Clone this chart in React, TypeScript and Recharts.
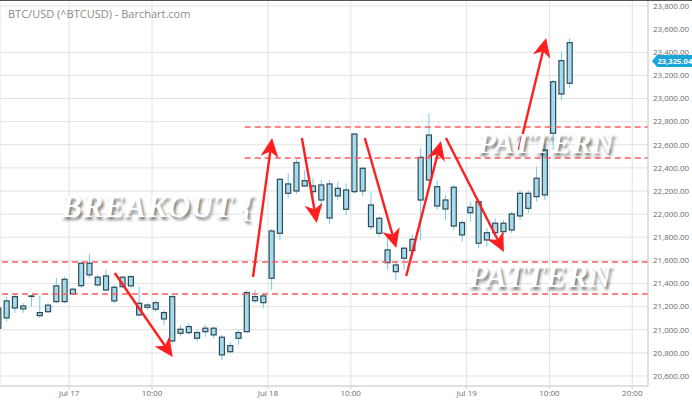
import React from "react";
import {
  ComposedChart,
  Bar,
  XAxis,
  YAxis,
  CartesianGrid,
  ReferenceLine,
  ReferenceDot,
} from "recharts";

// hourly candles, first one starts Jul 16 15:00 (hour -9 relative to Jul 17 00:00)
const START_HOUR = -9;
const OPEN = [
  21013, 21102, 21188, 21205, 21292, 21148, 21156, 21243, 21243, 21350, 21381, 21575, 21454, 21344,
  21367, 21372, 21459, 21229, 21194, 21177, 21148, 21286, 20969, 21027, 20975, 20983, 21013, 20935,
  20810, 20926, 20983, 21286, 21234, 21445, 21834, 22261, 22200, 22289, 22243, 22252, 21966, 22223,
  22209, 22194, 22396, 22079, 21964, 21690, 21560, 21618, 21684, 22122, 22295, 22237, 22122, 22232,
  21926, 22012, 22108, 21776, 21839, 21848, 21863, 21984, 22050, 22151, 22166, 22699, 23039, 23132,
];
const HIGH = [
  21200, 21283, 21301, 21231, 21301, 21292, 21231, 21448, 21459, 21361, 21586, 21655, 21474, 21517,
  21387, 21465, 21474, 21372, 21229, 21251, 21171, 21309, 21041, 21056, 20998, 21041, 21027, 20955,
  20897, 20998, 21338, 21344, 21315, 21870, 22310, 22353, 22474, 22382, 22310, 22295, 22295, 22278,
  22267, 22699, 22410, 22194, 21978, 21834, 21589, 21718, 21820, 22569, 22872, 22295, 22166, 22252,
  21949, 22108, 22137, 21877, 21964, 21949, 22021, 22209, 22203, 22410, 22600, 23160, 23405, 23521,
];
const LOW = [
  20990, 21067, 21145, 21145, 21199, 21102, 21145, 21231, 21231, 21301, 21361, 21448, 21372, 21329,
  21231, 21361, 21364, 21113, 21171, 21156, 21041, 20883, 20940, 20955, 20897, 20940, 20926, 20739,
  20796, 20868, 20975, 21229, 21186, 21344, 21776, 22137, 22174, 22237, 22137, 22036, 21915, 22122,
  21993, 22180, 22151, 21863, 21805, 21517, 21430, 21517, 21661, 21776, 22267, 22036, 21949, 21863,
  21762, 21935, 21704, 21718, 21805, 21820, 21834, 21949, 22007, 22108, 22122, 22555, 22987, 23088,
];
const CLOSE = [
  21186, 21249, 21286, 21180, 21292, 21122, 21212, 21379, 21436, 21309, 21575, 21474, 21387, 21465,
  21249, 21454, 21379, 21128, 21214, 21234, 21093, 20903, 21004, 20975, 20926, 21013, 20955, 20782,
  20862, 20975, 21321, 21251, 21292, 21854, 22301, 22180, 22445, 22243, 22194, 22122, 22261, 22157,
  22042, 22693, 22200, 21891, 21834, 21580, 21502, 21705, 21782, 22491, 22684, 22070, 22044, 21897,
  21820, 22059, 21748, 21839, 21921, 21921, 22001, 22180, 22180, 22310, 22555, 23145, 23327, 23483,
];
const LAST_PRICE = 23325.04;

const X_TICKS = [0, 10, 24, 34, 48, 58, 68];
const X_LABELS = ["Jul 17", "10:00", "Jul 18", "10:00", "Jul 19", "10:00", "20:00"];
const Y_TICKS = [
  20600, 20800, 21000, 21200, 21400, 21600, 21800, 22000, 22200, 22400, 22600, 22800, 23000, 23200,
  23400, 23600, 23800,
];

// support / resistance levels and where they start (hours)
const UPPER_LEVELS = [22753, 22485];
const UPPER_START = 21.2;
const LOWER_LEVELS = [21585, 21309];

// arrows: [fromHour, fromPrice, toHour, toPrice]
const ARROWS = [
  [5.5, 21490, 12.5, 20764],
  [22.2, 21456, 24.5, 22658],
  [28.1, 22658, 29.9, 21923],
  [35.7, 22658, 39.5, 21707],
  [40.7, 21464, 44.9, 22632],
  [45.5, 22658, 52.5, 21672],
  [54.3, 22554, 57.6, 23523],
];

// overlay captions: [text, hour, price (baseline), size]
const CAPTIONS: [string, number, number, number][] = [
  ["BREAKOUT {", -0.95, 21973, 31],
  ["PATTERN", 49.3, 22526, 30],
  ["PATTERN", 48.2, 21372, 31.5],
];

const X_DOMAIN = [-8.36, 69.9];
const Y_DOMAIN = [20513, 23852];

const BODY = "#a3dcef";
const EDGE = "#2f4a54";
const WICK = "#6fcdec";
const GRID = "#e2e2e2";
const RED = "#ff1f1f";
const DASH = "#ff5c5c";
const axisFont = { fontSize: 8, fill: "#6b6b6b", fontFamily: "Open Sans" };

const rows = OPEN.map((o, i) => ({
  t: START_HOUR + i + 0.4,
  open: o,
  high: HIGH[i],
  low: LOW[i],
  close: CLOSE[i],
  range: [LOW[i], HIGH[i]],
}));

function Candle(props: any) {
  const { x, y, width, height, payload } = props;
  const { open, close, high, low } = payload;
  const top = Math.min(y, y + height);
  const h = Math.abs(height);
  const k = high === low ? 0 : h / (high - low);
  const py = (v: number) => top + (high - v) * k;
  const cx = x + width / 2;
  const bTop = py(Math.max(open, close));
  const bBot = py(Math.min(open, close));
  return (
    <g>
      <line x1={cx} x2={cx} y1={top} y2={top + h} stroke={WICK} strokeWidth={1} />
      <rect
        x={x}
        y={bTop}
        width={width}
        height={Math.max(bBot - bTop, 0.5)}
        fill={BODY}
        stroke={EDGE}
        strokeWidth={1.2}
      />
    </g>
  );
}

function Arrow(props: any) {
  const { x1, y1, x2, y2 } = props;
  const a = Math.atan2(y2 - y1, x2 - x1);
  const c = Math.cos(a);
  const s = Math.sin(a);
  const len = 19;
  const half = 9;
  const bx = x2 - len * c;
  const by = y2 - len * s;
  const nx = x2 - len * 0.72 * c;
  const ny = y2 - len * 0.72 * s;
  const pts = [
    [x2, y2],
    [bx + half * s, by - half * c],
    [nx, ny],
    [bx - half * s, by + half * c],
  ]
    .map((p) => p.join(","))
    .join(" ");
  return (
    <g>
      <line x1={x1} y1={y1} x2={nx} y2={ny} stroke={RED} strokeWidth={2.4} />
      <polygon points={pts} fill={RED} />
    </g>
  );
}

function Caption({ cx, cy, text, size }: any) {
  return (
    <text
      x={cx}
      y={cy}
      fill="#ffffff"
      fontFamily="Liberation Serif"
      fontStyle="italic"
      fontWeight="bold"
      fontSize={size}
      letterSpacing={0.6}
      style={{ textShadow: "2px 3px 3px rgba(0,0,0,0.5)" }}
    >
      {text}
    </text>
  );
}

function PriceTag({ cx, cy }: any) {
  const l = cx + 4;
  const pts = `${l},${cy} ${l + 5},${cy - 6} 692,${cy - 6} 692,${cy + 6} ${l + 5},${cy + 6}`;
  return (
    <g>
      <polygon points={pts} fill="#1ba6d9" />
      <text x={l + 5.5} y={cy + 3} fill="#fff" fontSize={7.6} fontWeight="bold" fontFamily="Open Sans">
        {LAST_PRICE.toLocaleString("en-US", { minimumFractionDigits: 2 })}
      </text>
    </g>
  );
}

export default function App() {
  return (
    <div style={{ position: "absolute", left: 0, top: 0, width: 692, height: 402, background: "#fff" }}>
      <ComposedChart width={692} height={402} data={rows} margin={{ top: 0, right: 0, bottom: 0, left: 0 }}>
        <CartesianGrid stroke={GRID} />
        <XAxis
          dataKey="t"
          type="number"
          domain={X_DOMAIN}
          allowDataOverflow
          ticks={X_TICKS}
          tickFormatter={(v) => X_LABELS[X_TICKS.indexOf(v)] ?? ""}
          height={16}
          tick={axisFont}
          stroke="#cfcfcf"
          tickSize={3}
          tickMargin={1}
        />
        <YAxis
          orientation="right"
          type="number"
          domain={Y_DOMAIN}
          allowDataOverflow
          ticks={Y_TICKS}
          tickFormatter={(v) => v.toLocaleString("en-US", { minimumFractionDigits: 2 })}
          width={44}
          tick={axisFont}
          stroke="#cfcfcf"
          tickLine={false}
          tickSize={2}
          tickMargin={3}
        />
        {UPPER_LEVELS.map((v) => (
          <ReferenceLine
            key={v}
            segment={[
              { x: UPPER_START, y: v },
              { x: X_DOMAIN[1], y: v },
            ]}
            stroke={DASH}
            strokeWidth={1.5}
            strokeDasharray="6 4"
          />
        ))}
        {LOWER_LEVELS.map((v) => (
          <ReferenceLine key={v} y={v} stroke={DASH} strokeWidth={1.5} strokeDasharray="6 4" />
        ))}
        <Bar dataKey="range" barSize={5} shape={Candle} isAnimationActive={false} />
        {ARROWS.map((a, i) => (
          <ReferenceLine
            key={i}
            segment={[
              { x: a[0], y: a[1] },
              { x: a[2], y: a[3] },
            ]}
            shape={Arrow}
          />
        ))}
        {CAPTIONS.map(([text, h, v, size], i) => (
          <ReferenceDot
            key={i}
            x={h}
            y={v}
            r={0}
            shape={(p: any) => <Caption {...p} text={text} size={size} />}
          />
        ))}
        <ReferenceDot x={X_DOMAIN[1]} y={LAST_PRICE} r={0} ifOverflow="visible" shape={PriceTag} />
      </ComposedChart>
      <div
        style={{
          position: "absolute",
          left: 8,
          top: 6,
          fontFamily: "Open Sans",
          fontSize: 11,
          color: "#8a8a8a",
        }}
      >
        BTC/USD (^BTCUSD) - Barchart.com
      </div>
      <div style={{ position: "absolute", left: 0, top: 0, width: 692, height: 1, background: "#555" }} />
    </div>
  );
}
